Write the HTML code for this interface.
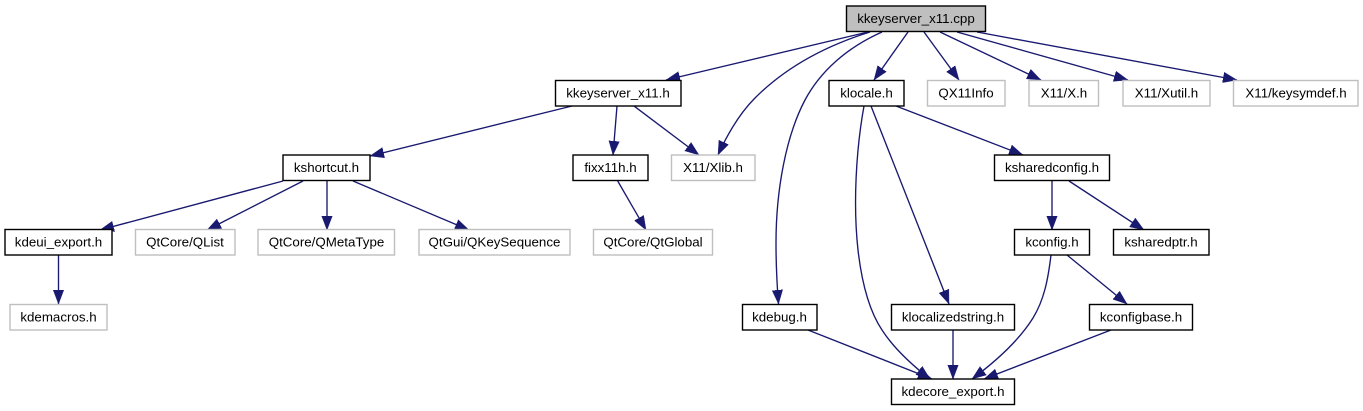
<!DOCTYPE html>
<html><head><meta charset="utf-8"><style>
html,body{margin:0;padding:0;background:#fff}
svg{display:block}
text{font-family:"Liberation Sans",sans-serif;font-size:13.33px;text-anchor:middle;fill:#000}
.k rect{fill:#fff;stroke:#000;stroke-width:1.4}
.g rect{fill:#fff;stroke:#bfbfbf;stroke-width:1.4}
.e path{fill:none;stroke:#191970;stroke-width:1.35;marker-end:url(#a)}
</style></head><body>
<svg width="1363" height="411" viewBox="0 0 1363 411" xmlns="http://www.w3.org/2000/svg">
<defs><marker id="a" markerUnits="userSpaceOnUse" markerWidth="16" markerHeight="13" refX="14" refY="6" orient="auto"><path d="M0,0.7 L14,6 L0,11.3 Z" fill="#191970" stroke="#191970" stroke-width="0.4"/></marker></defs>
<g class="e">
<path d="M868,32 L666,80"/>
<path d="M870,32 C825,46 785,68 755,98 C740,113 728,133 718,155"/>
<path d="M882,32 C846,48 820,72 805,100 C786,136 776,190 776,243 C776,265 777,285 778.5,304"/>
<path d="M908,32 L874,80"/>
<path d="M924,32 L959,80"/>
<path d="M940,32 L1041,80"/>
<path d="M957,32 L1128,80"/>
<path d="M977,32 L1237,80"/>
<path d="M572,106 L370,156"/>
<path d="M617,106 L613,155"/>
<path d="M634,106 L699,155"/>
<path d="M896,106 L1023,155"/>
<path d="M864,106 C856,150 853,205 858,250 C862,285 870,312 882,330 C893,347 912,365 930,379"/>
<path d="M871,106 L949,304"/>
<path d="M1052,181 L1052,230"/>
<path d="M1069,181 L1144,230"/>
<path d="M1067,255 L1127,304"/>
<path d="M1051,255 C1048,280 1044,300 1033,318 C1018,342 995,362 972,379"/>
<path d="M1111,330 L984,379"/>
<path d="M808,330 L932,379"/>
<path d="M953,330 L953,379"/>
<path d="M283,181 L100,230"/>
<path d="M303,181 L207,230"/>
<path d="M327,181 L327,230"/>
<path d="M353,181 L469,230"/>
<path d="M617.7,181 L646,230"/>
<path d="M58.5,255 L58.5,304"/>
</g>
<g class="k">
<rect x="846.5" y="6" width="139" height="25.5" style="fill:#bfbfbf"/><text x="916" y="23">kkeyserver_x11.cpp</text>
<rect x="555.5" y="80.5" width="125.5" height="25.5"/><text x="618" y="97.5">kkeyserver_x11.h</text>
<rect x="829" y="80.5" width="75" height="25.5"/><text x="866.5" y="97.5">klocale.h</text>
<rect x="573" y="155" width="75" height="25.5"/><text x="610.5" y="172">fixx11h.h</text>
<rect x="994.5" y="155" width="115" height="25.5"/><text x="1052" y="172">ksharedconfig.h</text>
<rect x="283" y="155" width="87" height="25.5"/><text x="326.5" y="172">kshortcut.h</text>
<rect x="5" y="229.5" width="107" height="25.5"/><text x="58.5" y="246.5">kdeui_export.h</text>
<rect x="1014.5" y="229.5" width="75" height="25.5"/><text x="1052" y="246.5">kconfig.h</text>
<rect x="1113.5" y="229.5" width="95.5" height="25.5"/><text x="1161" y="246.5">ksharedptr.h</text>
<rect x="742.5" y="304.5" width="74.5" height="25.5"/><text x="779.5" y="321.5">kdebug.h</text>
<rect x="891.5" y="304.5" width="123" height="25.5"/><text x="953" y="321.5">klocalizedstring.h</text>
<rect x="1089.5" y="304.5" width="103" height="25.5"/><text x="1141" y="321.5">kconfigbase.h</text>
<rect x="891.5" y="379" width="123" height="25.5"/><text x="953" y="396">kdecore_export.h</text>
</g>
<g class="g">
<rect x="927.5" y="80.5" width="77.5" height="25.5"/><text x="966" y="97.5">QX11Info</text>
<rect x="1029" y="80.5" width="69.5" height="25.5"/><text x="1064" y="97.5">X11/X.h</text>
<rect x="1123" y="80.5" width="87" height="25.5"/><text x="1166.5" y="97.5">X11/Xutil.h</text>
<rect x="1233.5" y="80.5" width="124.5" height="25.5"/><text x="1296" y="97.5">X11/keysymdef.h</text>
<rect x="671.5" y="155" width="83.5" height="25.5"/><text x="713" y="172">X11/Xlib.h</text>
<rect x="135.5" y="229.5" width="99.5" height="25.5"/><text x="185" y="246.5">QtCore/QList</text>
<rect x="258" y="229.5" width="136.5" height="25.5"/><text x="326.5" y="246.5">QtCore/QMetaType</text>
<rect x="419" y="229.5" width="151" height="25.5"/><text x="494.5" y="246.5">QtGui/QKeySequence</text>
<rect x="593.5" y="229.5" width="119" height="25.5"/><text x="653" y="246.5">QtCore/QtGlobal</text>
<rect x="10" y="304.5" width="97" height="25.5"/><text x="58.5" y="321.5">kdemacros.h</text>
</g>
</svg>
</body></html>
